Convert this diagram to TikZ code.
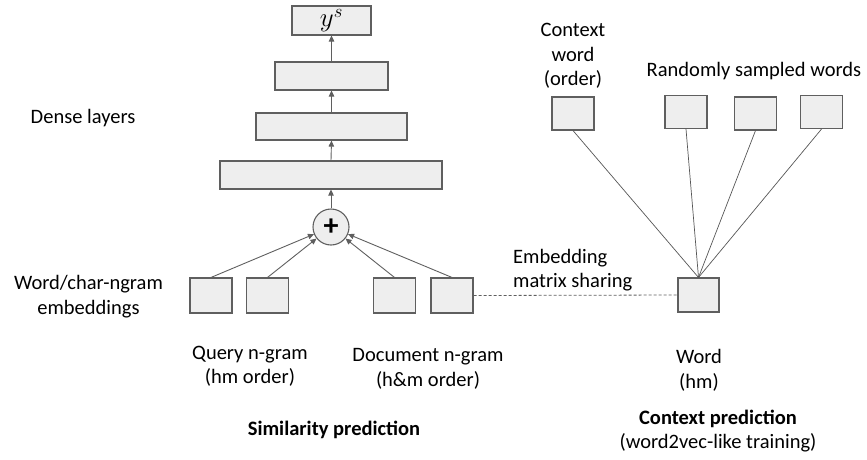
\documentclass[tikz,border=0pt]{standalone}
\usepackage{fontspec}
\setmainfont{Carlito}
\usetikzlibrary{arrows.meta}
\definecolor{boxfill}{HTML}{EEEEEE}
\definecolor{edge}{HTML}{5F5F5F}
\begin{document}
\begin{tikzpicture}[x=1pt,y=-1pt,
  every node/.style={font=\fontsize{20.5}{24.5}\selectfont, inner sep=0pt},
  blk/.style={draw=edge, fill=boxfill, line width=1.1pt},
  emb/.style={blk, minimum width=42pt, minimum height=35pt},
  arr/.style={draw=edge, line width=0.9pt, -{Triangle[length=6pt,width=5.5pt]}},
  thin/.style={draw=edge!90!black, line width=0.7pt},
  lbl/.style={align=center}]
\useasboundingbox (0,0) rectangle (867,459);
% dense stack
\node[blk, minimum width=79pt, minimum height=29pt] (ys) at (331.5,20.5) {\scalebox{1.3}{$y^s$}};
\node[blk, minimum width=113pt, minimum height=28pt] (d1) at (331.5,76) {};
\node[blk, minimum width=151pt, minimum height=27pt] (d2) at (331.5,126.5) {};
\node[blk, minimum width=222pt, minimum height=28pt] (d3) at (331,175) {};
\node[blk, circle, minimum size=36pt, font=\fontsize{30}{30}\selectfont\bfseries] (plus) at (331,227) {+};
% embeddings
\node[emb] (b1) at (211,295.5) {};
\node[emb] (b2) at (267.5,295.5) {};
\node[emb] (b3) at (394.5,295.5) {};
\node[emb] (b4) at (452,295.5) {};
% context side
\node[emb, minimum height=34pt, minimum width=41pt] (w) at (698.5,295) {};
\node[emb, minimum height=33pt] (c) at (573,113.5) {};
\node[emb, minimum height=33pt] (r1) at (686,112) {};
\node[emb, minimum height=33pt] (r2) at (755.5,113.5) {};
\node[emb, minimum height=33pt] (r3) at (821.5,112) {};
% arrows
\draw[arr] (d1.north) -- (ys.south);
\draw[arr] (d2.north) -- (d1.south);
\draw[arr] (d3.north) -- (d2.south);
\draw[arr] (plus.north) -- (d3.south);
\draw[arr] (b1.north) -- (plus);
\draw[arr] (b2.north) -- (plus);
\draw[arr] (b3.north) -- (plus);
\draw[arr] (b4.north) -- (plus);
\draw[thin] (c.south) -- (w.north);
\draw[thin] (r1.south) -- (w.north);
\draw[thin] (r2.south) -- (w.north);
\draw[thin] (r3.south) -- (w.north);
\draw[draw=edge, line width=0.8pt, dash pattern=on 3pt off 2pt] (b4.east) -- (w.west);
% labels
\node[lbl] (tdense) at (83,118) {Dense layers};
\node[lbl] (temb) at (88.5,296.5) {Word/char-ngram\\embeddings};
\node[lbl] (tq) at (250,366.5) {Query n-gram\\(hm order)};
\node[lbl] (td) at (428,369) {Document n-gram\\(h\&m order)};
\node[lbl, font=\fontsize{20.5}{24.5}\selectfont\bfseries] (tsim) at (334,430) {Similarity prediction};
\node[align=left, anchor=west] (tshare) at (513,270) {Embedding\\matrix sharing};
\node[lbl] (tctx) at (573,56) {Context\\word\\(order)};
\node[lbl] (trand) at (754,71) {Randomly sampled words};
\node[lbl] (tw) at (699,370.5) {Word\\(hm)};
\node[lbl] (tcp) at (718,431) {\textbf{Context prediction}\\(word2vec-like training)};
\end{tikzpicture}
\end{document}
